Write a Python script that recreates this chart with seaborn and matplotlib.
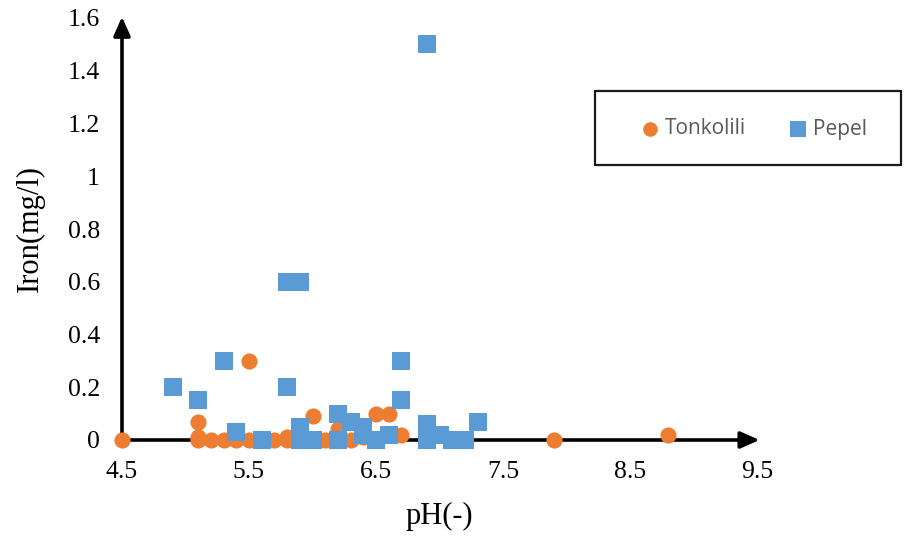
import numpy as np
import pandas as pd
import matplotlib
matplotlib.use("Agg")
import matplotlib.pyplot as plt
from matplotlib.patches import Rectangle
from matplotlib.ticker import FuncFormatter
import seaborn as sns

# Tonkolili samples: pH and iron (mg/l)
tonkolili_ph = [4.5, 5.1, 5.1, 5.1, 5.2, 5.3, 5.4, 5.5, 5.5, 5.6, 5.7, 5.8,
                5.8, 6.0, 6.1, 6.2, 6.2, 6.3, 6.4, 6.5, 6.6, 6.7, 7.9, 8.8]
tonkolili_fe = [0.0, 0.07, 0.01, 0.0, 0.0, 0.0, 0.0, 0.3, 0.0, 0.0, 0.0, 0.01,
                0.0, 0.09, 0.0, 0.04, 0.0, 0.0, 0.01, 0.1, 0.1, 0.02, 0.0, 0.02]

# Pepel samples: pH and iron (mg/l)
pepel_ph = [4.9, 5.1, 5.3, 5.4, 5.6, 5.8, 5.8, 5.9, 5.9, 5.9, 6.0, 6.2, 6.2,
            6.3, 6.4, 6.4, 6.5, 6.6, 6.7, 6.7, 6.9, 6.9, 6.9, 7.0, 7.1, 7.2, 7.3]
pepel_fe = [0.2, 0.15, 0.3, 0.03, 0.0, 0.6, 0.2, 0.6, 0.05, 0.0, 0.0, 0.1, 0.0,
            0.07, 0.05, 0.02, 0.0, 0.02, 0.3, 0.15, 1.5, 0.06, 0.0, 0.02, 0.0, 0.0, 0.07]

x_ticks = [4.5, 5.5, 6.5, 7.5, 8.5, 9.5]
y_ticks = [0, 0.2, 0.4, 0.6, 0.8, 1.0, 1.2, 1.4, 1.6]

df_t = pd.DataFrame({"pH": tonkolili_ph, "Fe": tonkolili_fe})
df_p = pd.DataFrame({"pH": pepel_ph, "Fe": pepel_fe})

sns.set_theme(style="white")
plt.rcParams["font.family"] = ["Liberation Serif", "DejaVu Serif"]

fig = plt.figure(figsize=(9.07, 5.38), dpi=100)
ax = fig.add_axes([122 / 907, 1 - 440 / 538, (757 - 122) / 907, (440 - 18) / 538])

orange = "#ED7D31"
blue = "#5B9BD5"

sns.scatterplot(data=df_t, x="pH", y="Fe", ax=ax, color=orange, marker="o",
                s=135, linewidth=0, label="Tonkolili", zorder=4, clip_on=False)
sns.scatterplot(data=df_p, x="pH", y="Fe", ax=ax, color=blue, marker="s",
                s=150, linewidth=0, label="Pepel", zorder=5, clip_on=False)

ax.set_xlim(4.5, 9.5)
ax.set_ylim(0, 1.6)
ax.set_xticks(x_ticks)
ax.set_yticks(y_ticks)
fmt = FuncFormatter(lambda v, p: f"{v:g}")
ax.xaxis.set_major_formatter(fmt)
ax.yaxis.set_major_formatter(fmt)
ax.tick_params(axis="both", length=0, labelsize=18.5, colors="black")
ax.tick_params(axis="x", pad=15)
ax.tick_params(axis="y", pad=16)

for side in ["top", "right", "left", "bottom"]:
    ax.spines[side].set_visible(False)

# axis lines with arrow heads
arrow_kw = dict(arrowstyle="-|>,head_length=0.95,head_width=0.42",
                lw=2.6, color="black", shrinkA=0, shrinkB=0, mutation_scale=12)
ax.annotate("", xy=(1.004, 0), xytext=(0, 0), xycoords="axes fraction",
            textcoords="axes fraction", arrowprops=arrow_kw, zorder=2)
ax.annotate("", xy=(0, 1.003), xytext=(0, 0), xycoords="axes fraction",
            textcoords="axes fraction", arrowprops=arrow_kw, zorder=2)

ax.set_xlabel("pH(-)", fontsize=22, color="black", labelpad=14)
ax.set_ylabel("Iron(mg/l)", fontsize=22, color="black", labelpad=16)

handles, labels = ax.get_legend_handles_labels()
ax.get_legend().remove()

# legend box
fig.add_artist(Rectangle((595 / 907, 1 - 165 / 538), 306 / 907, 74 / 538,
                         transform=fig.transFigure, fill=False,
                         edgecolor="#1a1a1a", lw=1.6))
leg = fig.legend(handles, labels, loc="center", bbox_to_anchor=(753 / 907, 1 - 129 / 538),
                 ncol=2, frameon=False, handlelength=1.0, handletextpad=0.22,
                 columnspacing=2.0, markerscale=0.9,
                 prop={"family": "Open Sans", "size": 15})
for t in leg.get_texts():
    t.set_color("#595959")

fig.savefig("out.png", dpi=100)
